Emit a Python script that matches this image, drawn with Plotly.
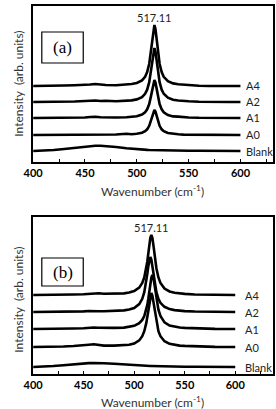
import plotly.graph_objects as go

# ---------------- data ----------------
SERIES = ["Blank", "A0", "A1", "A2", "A4"]
TICKS = [400, 450, 500, 550, 600]
PEAK_LABEL = "517.11"

# panel (a)
WN_A = [400, 410, 420, 430, 440, 450, 455, 460, 465, 470, 480, 490, 495, 500, 505, 508, 510,
        512, 514, 515, 516, 517, 518, 519, 520, 522, 524, 526, 530, 535, 540, 545, 550,
        560, 570, 580, 590, 600]
BLANK_A = [11, 11.3, 12, 13, 14.3, 15.5, 16, 16.3, 16.3, 16, 15, 13.8, 13.2, 12.7, 12.3, 12.2, 12.1,
           12, 12, 12, 12, 12, 12, 11.9, 11.9, 11.8, 11.8, 11.7, 11.6, 11.5, 11.4, 11.3, 11.3,
           11.2, 11.1, 11, 11, 11]
A0_A = [27, 27, 27, 27, 27.2, 27.3, 27.5, 27.6, 27.4, 27.3, 27.5, 28.3, 27.8, 28.2, 29.3, 30.8, 32.7,
        36.2, 42.4, 46.6, 50.4, 52, 50.4, 46.6, 42.4, 36.2, 32.7, 30.8, 29, 28.1, 27.7, 27.4, 27.3,
        27.1, 27, 27, 27, 27]
A1_A = [44, 44, 44, 44.2, 44.5, 44.5, 45, 45.3, 44.8, 44.6, 44.5, 44.8, 45.1, 45.8, 47.5, 49.7, 52.7,
        57.9, 67.4, 73.8, 79.5, 82, 79.5, 73.8, 67.4, 57.9, 52.7, 49.7, 47, 45.6, 45.4, 44.8, 44.5,
        44.2, 44, 44, 44, 44]
A2_A = [60, 60, 60, 60.3, 60.5, 61, 61.5, 61.5, 61, 61.3, 60.8, 61.1, 61.6, 62.6, 64.9, 68.2, 72.3,
        79.8, 93.3, 102.3, 110.5, 114, 110.5, 102.3, 93.3, 79.8, 72.3, 68.2, 64.3, 62.3, 61.5, 61, 60.7,
        60.3, 60, 60, 60, 60]
A4_A = [76, 76, 76.3, 76.5, 76.8, 77, 77.5, 78, 77.5, 77, 76.8, 77.3, 78, 79, 81.6, 85.2, 89.9,
        98.3, 113.6, 123.8, 133, 137, 133, 123.8, 113.6, 98.3, 89.9, 85.2, 80.8, 78.6, 77.8, 77.3, 76.6,
        76.3, 76, 76, 76, 76]

# panel (b)
WN_B = [400, 410, 420, 430, 440, 450, 455, 460, 465, 470, 480, 490, 495, 500, 505, 508, 510,
        512, 513, 514, 515, 516, 517, 518, 519, 520, 521, 522, 524, 526, 530, 535, 540, 545, 550,
        560, 570, 580, 590, 600]
BLANK_B = [7, 7.3, 8, 8.8, 9.8, 10.6, 10.9, 11, 11, 10.8, 10.2, 9.4, 9, 8.7, 8.4, 8.3, 8.2,
           8.1, 8.1, 8, 8, 8, 8, 8, 7.9, 7.9, 7.9, 7.9, 7.8, 7.8, 7.7, 7.6, 7.5, 7.4, 7.3,
           7.2, 7.1, 7, 7, 7]
A0_B = [27, 27, 27.2, 27.5, 28, 28.5, 29.3, 29.8, 29, 28.4, 28.4, 28.5, 29.2, 30.5, 33.6, 37.8, 42.8,
        51.1, 57.2, 64.4, 72.1, 78.5, 81, 78.5, 72.1, 64.4, 57.2, 51.1, 42.8, 37.8, 32.8, 30.2, 29, 28.4, 28.1,
        27.6, 27.3, 27.1, 27, 27]
A1_B = [45, 45, 45, 45.2, 45.5, 45.8, 46.2, 46.5, 46.2, 46, 46.1, 46.4, 47, 48.2, 50.8, 54.1, 58,
        64.4, 69.1, 75.2, 82.4, 90.1, 96.5, 99, 96.5, 90.1, 82.4, 75.2, 64.4, 58, 51.6, 48.5, 47.2, 46.5, 46.1,
        45.6, 45.3, 45.1, 45, 45]
A2_B = [62, 62, 62, 62, 62.3, 62.6, 63, 63.2, 62.8, 62.8, 63, 63.6, 64.4, 66, 69.9, 75.2, 81.8,
        92.7, 100.1, 107.9, 114.4, 117, 114.4, 107.9, 100.1, 92.7, 86.6, 81.8, 75.2, 71.2, 67.2, 64.9, 63.9, 63.3, 62.9,
        62.5, 62.2, 62, 62, 62]
A4_B = [79, 79, 79, 79.2, 79.5, 79.8, 80.3, 81, 80.8, 80.3, 80.3, 80.6, 81.4, 82.9, 86.4, 91, 96.5,
        105.8, 112.5, 120.5, 129.1, 136.2, 139, 136.2, 129.1, 120.5, 112.5, 105.8, 96.5, 91, 85.4, 82.5, 81.2, 80.5, 80.1,
        79.5, 79.2, 79, 79, 79]

PANELS = [
    dict(name="(a)", wn=WN_A, ys=[BLANK_A, A0_A, A1_A, A2_A, A4_A], xr=[400, 631.5], yr=[0, 156],
         px=(24, 273, 6, 162), lab_x=603.5, peak_x=517.2, peak_y=145,
         box=(33, 76, 32, 63), ytitle_y=84, xtitle_y=191),
    dict(name="(b)", wn=WN_B, ys=[BLANK_B, A0_B, A1_B, A2_B, A4_B], xr=[400, 637.5], yr=[0, 157],
         px=(24, 273, 217, 374), lab_x=607.5, peak_x=517.5, peak_y=146,
         box=(33, 76, 258, 286), ytitle_y=300, xtitle_y=402),
]

W, H = 276, 409
FONT = "Lato"

fig = go.Figure()
annotations = []
shapes = []
layout_axes = {}

for i, p in enumerate(PANELS):
    k = "" if i == 0 else str(i + 1)
    xa, ya = "x" + k, "y" + k
    x0, x1, y0, y1 = p["px"]
    dom_x = [x0 / W, x1 / W]
    dom_y = [1 - y1 / H, 1 - y0 / H]

    def to_paper(xv, yv, p=p, dom_x=dom_x, dom_y=dom_y):
        fx = (xv - p["xr"][0]) / (p["xr"][1] - p["xr"][0])
        fy = (yv - p["yr"][0]) / (p["yr"][1] - p["yr"][0])
        return (dom_x[0] + fx * (dom_x[1] - dom_x[0]), dom_y[0] + fy * (dom_y[1] - dom_y[0]))

    for name, y in zip(SERIES, p["ys"]):
        fig.add_trace(go.Scatter(x=p["wn"], y=y, mode="lines", name=name,
                                 line=dict(color="black", width=2.6),
                                 xaxis=xa, yaxis=ya, showlegend=False, hoverinfo="skip"))
        lx, ly = to_paper(p["lab_x"], y[-1])
        annotations.append(dict(x=lx, y=ly, xref="paper", yref="paper", text=name,
                                showarrow=False, xanchor="left", yanchor="middle",
                                font=dict(family=FONT, size=11, color="#222")))
    px_, py_ = to_paper(p["peak_x"], p["peak_y"])
    annotations.append(dict(x=px_, y=py_, xref="paper", yref="paper", text=PEAK_LABEL,
                            showarrow=False, xanchor="center", yanchor="middle",
                            font=dict(family=FONT, size=11, color="#222")))
    layout_axes["xaxis" + k] = dict(
        domain=dom_x, anchor=ya, range=p["xr"], tickvals=TICKS,
        ticks="inside", ticklen=3, tickwidth=1, tickcolor="black",
        minor=dict(dtick=25, tick0=400, ticks="inside", ticklen=3, tickcolor="black"),
        showline=True, linecolor="black", linewidth=1.5, mirror=True,
        showgrid=False, zeroline=False,
        tickfont=dict(family=FONT, size=11, color="black", weight="bold"))
    layout_axes["yaxis" + k] = dict(
        domain=dom_y, anchor=xa, range=p["yr"],
        showticklabels=False, ticks="", showline=True, linecolor="black", linewidth=1.5,
        mirror=True, showgrid=False, zeroline=False)
    # label box
    bx0, bx1, by0, by1 = p["box"]
    shapes.append(dict(type="rect", xref="paper", yref="paper",
                       x0=bx0 / W, x1=bx1 / W, y0=1 - by1 / H, y1=1 - by0 / H,
                       line=dict(color="black", width=1.2), fillcolor="white"))
    annotations.append(dict(x=(bx0 + bx1) / 2 / W, y=1 - (by0 + by1) / 2 / H, xref="paper", yref="paper",
                            text=p["name"], showarrow=False, xanchor="center", yanchor="middle",
                            font=dict(family="Liberation Serif", size=17, color="black")))
    # axis titles
    annotations.append(dict(x=8 / W, y=1 - p["ytitle_y"] / H, xref="paper", yref="paper",
                            text="Intensity  (arb. units)", textangle=-90, showarrow=False,
                            xanchor="center", yanchor="middle",
                            font=dict(family=FONT, size=12, color="#333")))
    annotations.append(dict(x=148 / W, y=1 - p["xtitle_y"] / H, xref="paper", yref="paper",
                            text="Wavenumber (cm<sup>-1</sup>)", showarrow=False,
                            xanchor="center", yanchor="middle",
                            font=dict(family=FONT, size=12, color="#333")))

fig.update_layout(width=W, height=H, margin=dict(l=0, r=0, t=0, b=0),
                  paper_bgcolor="white", plot_bgcolor="white",
                  annotations=annotations, shapes=shapes, **layout_axes)

fig.write_html("out.html")
